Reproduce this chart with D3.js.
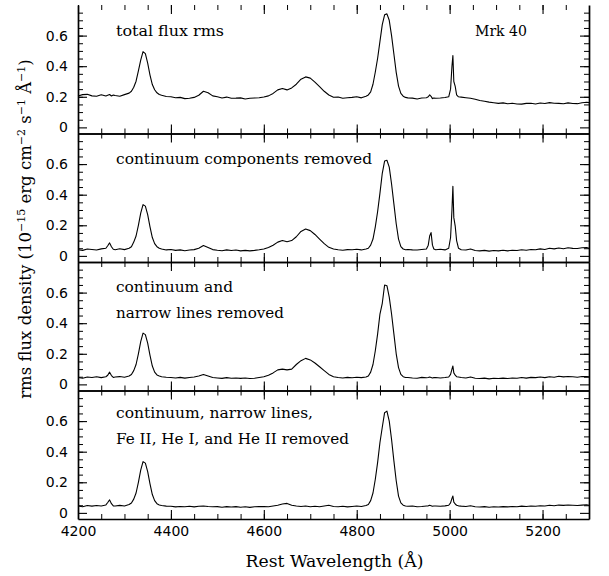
<!DOCTYPE html>
<html>
<head>
<meta charset="utf-8">
<script src="https://cdn.jsdelivr.net/npm/d3@7"></script>
<style>
  body { margin: 0; background: #fff; }
  .tick text { font-family: "DejaVu Sans", sans-serif; font-size: 14px; fill: #000; }
  .lbl { font-family: "DejaVu Serif", serif; font-size: 14.5px; fill: #000; }
</style>
</head>
<body>
<div id="chart"></div>
<script>
// sampling grid of the spectra (rest wavelength, Angstrom)
const wavelength = [
  4200, 4210, 4220, 4230, 4240, 4250, 4260,
  4264, 4268, 4272, 4276,
  4280, 4290, 4300, 4310,
  4315, 4320, 4325, 4330, 4335, 4340, 4345, 4350, 4355, 4360, 4365, 4370, 4375,
  4380, 4390, 4400, 4410, 4420, 4430, 4440, 4450, 4460, 4470, 4480, 4490, 4500, 4510, 4520, 4530, 4540, 4550, 4560, 4570, 4580, 4590, 4600,
  4610, 4620, 4630, 4640, 4650, 4660, 4670, 4680, 4690, 4700, 4710, 4720, 4730, 4740, 4750, 4760, 4770, 4780, 4790, 4800, 4810, 4820,
  4825, 4830, 4835, 4840, 4845, 4850, 4855, 4860, 4865, 4870, 4875, 4880, 4885, 4890, 4895, 4900, 4905,
  4910, 4920, 4930, 4940, 4950,
  4954, 4957, 4960, 4963, 4966,
  4970, 4980, 4990,
  4998, 5002, 5005, 5007, 5009, 5012, 5015, 5019,
  5025, 5035, 5045, 5055, 5065, 5075, 5085, 5095, 5105, 5115, 5125, 5135, 5145, 5155, 5165, 5175, 5185, 5195, 5205, 5215, 5225, 5235, 5245, 5255, 5265, 5275, 5285, 5295, 5300
];

const totalRms = [
  0.205, 0.214, 0.216, 0.206, 0.204, 0.213, 0.205,
  0.21, 0.215, 0.205, 0.211,
  0.208, 0.204, 0.214, 0.224,
  0.236, 0.262, 0.302, 0.37, 0.44, 0.495, 0.482, 0.42, 0.342, 0.28, 0.246, 0.226, 0.215,
  0.21, 0.202, 0.2, 0.194, 0.196, 0.188, 0.19, 0.196, 0.21, 0.236, 0.226, 0.206, 0.2, 0.192, 0.198, 0.19, 0.191, 0.193, 0.186, 0.19, 0.192, 0.194, 0.199,
  0.206, 0.222, 0.245, 0.254, 0.245, 0.258, 0.282, 0.315, 0.33, 0.322, 0.296, 0.266, 0.236, 0.212, 0.197, 0.198, 0.19, 0.194, 0.196, 0.2, 0.193, 0.204,
  0.212, 0.232, 0.282, 0.362, 0.452, 0.562, 0.672, 0.736, 0.742, 0.70, 0.60, 0.48, 0.36, 0.27, 0.222, 0.204, 0.196,
  0.193, 0.191, 0.186, 0.192, 0.194,
  0.2, 0.212, 0.203, 0.188, 0.192,
  0.19, 0.192, 0.195,
  0.2, 0.25, 0.4, 0.47, 0.3, 0.268, 0.212, 0.2,
  0.198, 0.194, 0.19, 0.184, 0.176, 0.171, 0.165, 0.161, 0.157, 0.16, 0.154, 0.158, 0.153, 0.152, 0.157, 0.158, 0.153, 0.159, 0.156, 0.162, 0.158, 0.157, 0.154, 0.16, 0.156, 0.155, 0.161, 0.164, 0.162
];

const contRemoved = [
  0.04, 0.036, 0.045, 0.042, 0.038, 0.046, 0.05,
  0.066, 0.085, 0.06, 0.043,
  0.04, 0.047, 0.041, 0.05,
  0.06, 0.09, 0.13, 0.2, 0.28, 0.335, 0.325, 0.27, 0.19, 0.12, 0.08, 0.06, 0.05,
  0.045, 0.039, 0.042, 0.036, 0.039, 0.034, 0.038, 0.041, 0.05, 0.068, 0.055, 0.041, 0.037, 0.034, 0.039, 0.035, 0.038, 0.033, 0.036, 0.033, 0.036, 0.04, 0.045,
  0.055, 0.07, 0.09, 0.1, 0.092, 0.1, 0.125, 0.16, 0.176, 0.165, 0.14, 0.11, 0.08, 0.056, 0.045, 0.04, 0.037, 0.041, 0.04, 0.043, 0.039, 0.045,
  0.05, 0.07, 0.11, 0.19, 0.29, 0.41, 0.54, 0.62, 0.625, 0.58, 0.47, 0.34, 0.21, 0.11, 0.06, 0.045, 0.04,
  0.042, 0.039, 0.038, 0.042, 0.045,
  0.07, 0.13, 0.152, 0.07, 0.045,
  0.04, 0.043, 0.039,
  0.05, 0.12, 0.3, 0.455, 0.25, 0.195, 0.1, 0.05,
  0.04, 0.038, 0.045, 0.035, 0.033, 0.036, 0.031, 0.035, 0.033, 0.037, 0.033, 0.037, 0.035, 0.04, 0.037, 0.042, 0.04, 0.046, 0.042, 0.05, 0.046, 0.051, 0.047, 0.053, 0.049, 0.048, 0.053, 0.055, 0.05
];

const narrowRemoved = [
  0.045, 0.04, 0.048, 0.045, 0.05, 0.044, 0.05,
  0.06, 0.08, 0.058, 0.045,
  0.048, 0.051, 0.047, 0.055,
  0.065, 0.09, 0.13, 0.2, 0.28, 0.335, 0.325, 0.27, 0.19, 0.12, 0.08, 0.062, 0.055,
  0.05, 0.047, 0.045, 0.042, 0.046, 0.041, 0.045, 0.048, 0.055, 0.065, 0.055, 0.045, 0.042, 0.039, 0.044, 0.04, 0.042, 0.039, 0.042, 0.038, 0.04, 0.045, 0.05,
  0.06, 0.075, 0.095, 0.1, 0.095, 0.1, 0.13, 0.155, 0.17, 0.16, 0.14, 0.115, 0.09, 0.065, 0.05, 0.045, 0.042, 0.046, 0.043, 0.047, 0.044, 0.048,
  0.055, 0.08, 0.13, 0.22, 0.33, 0.46, 0.53, 0.65, 0.645, 0.57, 0.46, 0.33, 0.2, 0.11, 0.065, 0.05, 0.045,
  0.045, 0.042, 0.04, 0.046, 0.043,
  0.045, 0.048, 0.045, 0.042, 0.044,
  0.045, 0.042, 0.045,
  0.048, 0.065, 0.1, 0.12, 0.075, 0.06, 0.05, 0.048,
  0.045, 0.042, 0.048, 0.04, 0.038, 0.041, 0.036, 0.04, 0.038, 0.041, 0.038, 0.042, 0.04, 0.045, 0.041, 0.046, 0.044, 0.048, 0.044, 0.05, 0.047, 0.053, 0.049, 0.052, 0.05, 0.047, 0.051, 0.052, 0.05
];

const allRemoved = [
  0.045, 0.04, 0.048, 0.044, 0.048, 0.045, 0.052,
  0.068, 0.085, 0.06, 0.046,
  0.045, 0.049, 0.045, 0.055,
  0.065, 0.09, 0.13, 0.2, 0.28, 0.335, 0.325, 0.27, 0.19, 0.12, 0.08, 0.06, 0.052,
  0.048, 0.044, 0.043, 0.039, 0.042, 0.04, 0.043, 0.039, 0.043, 0.045, 0.042, 0.04, 0.041, 0.037, 0.041, 0.038, 0.041, 0.037, 0.04, 0.036, 0.04, 0.041, 0.042,
  0.04, 0.045, 0.05, 0.058, 0.062, 0.05, 0.045, 0.042, 0.045, 0.04, 0.043, 0.04, 0.045, 0.05, 0.042, 0.04, 0.043, 0.039, 0.042, 0.045, 0.042, 0.048,
  0.055, 0.08, 0.13, 0.22, 0.33, 0.46, 0.56, 0.655, 0.665, 0.6, 0.48, 0.34, 0.21, 0.11, 0.065, 0.05, 0.045,
  0.043, 0.045, 0.04, 0.042, 0.045,
  0.046, 0.05, 0.047, 0.043, 0.045,
  0.045, 0.043, 0.046,
  0.05, 0.065, 0.095, 0.11, 0.07, 0.058, 0.05, 0.046,
  0.044, 0.042, 0.047, 0.04, 0.038, 0.041, 0.037, 0.04, 0.038, 0.041, 0.039, 0.042, 0.04, 0.044, 0.042, 0.045, 0.043, 0.047, 0.045, 0.05, 0.047, 0.051, 0.049, 0.052, 0.05, 0.048, 0.051, 0.053, 0.05
];

const panelSeries = [totalRms, contRemoved, narrowRemoved, allRemoved];
const panelLabels = [
  ['total flux rms'],
  ['continuum components removed'],
  ['continuum and', 'narrow lines removed'],
  ['continuum, narrow lines,', 'Fe II, He I, and He II removed']
];
const yMajorTicks = [0, 0.2, 0.4, 0.6];
const xMajorTicks = [4200, 4400, 4600, 4800, 5000, 5200];
const objectName = 'Mrk 40';

// layout
const width = 609, height = 576;
const left = 78, right = 589;
const top0 = 5, panelH = 128.5;
const labelDy = [31, 30.5, 30, 27.5];
const labelWidths = [[108], [256], [117, 168], [197, 233]];

const svg = d3.select('#chart').append('svg')
  .attr('width', width)
  .attr('height', height);

const x = d3.scaleLinear().domain([4200, 5300]).range([left, right]);
const xMinor = d3.range(4250, 5300, 50);
const yMinor = d3.range(0.05, 0.8, 0.05);

panelSeries.forEach((series, i) => {
  let top = top0 + i * panelH;
  let bottom = top + panelH;
  let y = d3.scaleLinear().domain([-0.04, 0.8]).range([bottom, top]);
  let g = svg.append('g');

  let axes = [
    { ax: d3.axisLeft(y), at: `translate(${left},0)`, vals: yMinor, major: yMajorTicks, labels: true, pad: 10 },
    { ax: d3.axisRight(y), at: `translate(${right},0)`, vals: yMinor, major: yMajorTicks, pad: 10 },
    { ax: d3.axisBottom(x), at: `translate(0,${bottom})`, vals: xMinor, major: xMajorTicks, labels: i === 3, pad: 7 },
    { ax: d3.axisTop(x), at: `translate(0,${top})`, vals: xMinor, major: xMajorTicks, noDomain: i === 0, pad: 10 }
  ];

  axes.forEach(a => {
    // minor ticks
    g.append('g')
      .attr('transform', a.at)
      .call(a.ax.tickValues(a.vals).tickSize(-5).tickSizeOuter(0).tickFormat(''))
      .call(s => s.select('.domain').remove());
    // major ticks + frame line
    let sel = g.append('g')
      .attr('transform', a.at)
      .call(a.ax.tickValues(a.major).tickSize(-9).tickSizeOuter(0)
        .tickPadding(a.pad)
        .tickFormat(a.labels ? (d => d === 0 ? '0' : (d < 10 ? d3.format('.1f')(d) : d)) : ''));
    sel.select('.domain').attr('stroke-width', 1.7);
    if (a.noDomain) sel.select('.domain').remove();
    sel.selectAll('.tick line').attr('stroke-width', 1.1);
  });

  // spectrum
  let line = d3.line()
    .x((d, k) => x(wavelength[k]))
    .y(d => y(d));

  g.append('path')
    .datum(series)
    .attr('fill', 'none')
    .attr('stroke', '#000')
    .attr('stroke-width', 1.1)
    .attr('stroke-linejoin', 'round')
    .attr('d', line);

  panelLabels[i].forEach((t, j) => {
    g.append('text')
      .attr('class', 'lbl')
      .attr('x', 116)
      .attr('y', top + labelDy[i] + j * 26)
      .attr('textLength', labelWidths[i][j])
      .attr('lengthAdjust', 'spacingAndGlyphs')
      .text(t);
  });

  if (i === 0) {
    g.append('text')
      .attr('class', 'lbl')
      .attr('x', 475)
      .attr('y', top + labelDy[i])
      .attr('textLength', 52)
      .attr('lengthAdjust', 'spacingAndGlyphs')
      .text(objectName);
  }
});

// x title
svg.append('text')
  .attr('x', (left + right) / 2 + 1)
  .attr('y', 567)
  .attr('text-anchor', 'middle')
  .style('font-family', '"DejaVu Serif", serif')
  .style('font-size', '16.5px')
  .attr('textLength', 178)
  .attr('lengthAdjust', 'spacingAndGlyphs')
  .text('Rest Wavelength (Å)');

// y title with superscripts
let yt = svg.append('text')
  .attr('transform', 'translate(31,229) rotate(-90)')
  .attr('text-anchor', 'middle')
  .style('font-family', '"DejaVu Serif", serif')
  .style('font-size', '16.5px');

let parts = [
  ['rms flux density (10', false], ['−15', true], [' erg cm', false], ['−2', true],
  [' s', false], ['−1', true], [' Å', false], ['−1', true], [')', false]
];
let wasSup = false;
parts.forEach(([t, sup]) => {
  let ts = yt.append('tspan').text(t);
  if (sup && !wasSup) ts.attr('dy', '-6').style('font-size', '11px');
  if (!sup && wasSup) ts.attr('dy', '6');
  wasSup = sup;
});
</script>
</body>
</html>
